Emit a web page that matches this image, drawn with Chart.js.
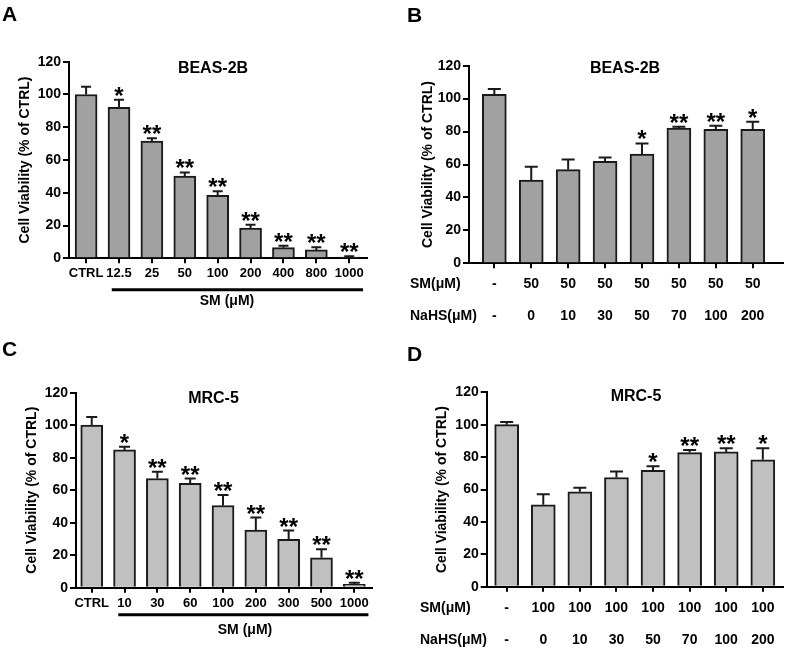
<!DOCTYPE html>
<html>
<head>
<meta charset="utf-8">
<script src="https://cdn.jsdelivr.net/npm/chart.js@4.4.1/dist/chart.umd.min.js"></script>
<style>
  body { margin: 0; background: #fff; }
  #wrap { position: relative; width: 787px; height: 652px; }
  canvas { position: absolute; }
</style>
</head>
<body>
<div id="wrap">
  <canvas id="chartA" width="393" height="326" style="left:0;top:0"></canvas>
  <canvas id="chartB" width="394" height="326" style="left:393px;top:0"></canvas>
  <canvas id="chartC" width="393" height="326" style="left:0;top:326px"></canvas>
  <canvas id="chartD" width="394" height="326" style="left:393px;top:326px"></canvas>
</div>
<script>
// A: BEAS-2B, SM dose response
const catsA = ['CTRL', '12.5', '25', '50', '100', '200', '400', '800', '1000'];
const meanA = [100, 92.1, 71.5, 50.2, 38.5, 18.5, 6.5, 5.1, 0.8];
const semA = [4.7, 4.7, 1.8, 2.2, 2.4, 2.0, 1.1, 1.6, 0.4];
const sigA = ['', '*', '**', '**', '**', '**', '**', '**', '**'];

// B: BEAS-2B, SM 50 + NaHS
const smB = ['-', '50', '50', '50', '50', '50', '50', '50'];
const nahsB = ['-', '0', '10', '30', '50', '70', '100', '200'];
const meanB = [102.6, 50.6, 56.9, 62.0, 66.3, 82.1, 81.3, 81.3];
const semB = [3.2, 8.1, 6.1, 2.2, 6.5, 0.8, 2.2, 4.7];
const sigB = ['', '', '', '', '*', '**', '**', '*'];

// C: MRC-5, SM dose response
const catsC = ['CTRL', '10', '30', '60', '100', '200', '300', '500', '1000'];
const meanC = [100, 84.8, 67.2, 64.3, 50.6, 35.5, 29.7, 18.4, 2.0];
const semC = [5.1, 1.9, 4.1, 2.9, 6.4, 7.7, 5.5, 5.2, 1.0];
const sigC = ['', '*', '**', '**', '**', '**', '**', '**', '**'];

// D: MRC-5, SM 100 + NaHS
const smD = ['-', '100', '100', '100', '100', '100', '100', '100'];
const nahsD = ['-', '0', '10', '30', '50', '70', '100', '200'];
const meanD = [100, 50.6, 58.6, 67.4, 71.9, 82.8, 83.2, 78.3];
const semD = [1.6, 6.4, 2.5, 3.7, 2.5, 1.6, 2.3, 7.2];
const sigD = ['', '', '', '', '*', '**', '**', '*'];

const yTicks = [0, 20, 40, 60, 80, 100, 120];

const FONT = "'Liberation Sans', Arial, sans-serif";
Chart.defaults.font.family = FONT;
Chart.defaults.font.weight = 'bold';
Chart.defaults.color = '#000';
Chart.defaults.animation = false;

function decor(spec) {
    return {
        id: 'decor' + spec.letter,
        afterDatasetsDraw(chart) {
            const ctx = chart.ctx;
            const xs = chart.scales.x, ys = chart.scales.y;
            const area = chart.chartArea;
            ctx.save();
            ctx.strokeStyle = '#1a1a1a';
            ctx.fillStyle = '#000';
            ctx.lineWidth = 2;
            spec.mean.forEach((v, i) => {
                const x = xs.getPixelForValue(i);
                const y0 = ys.getPixelForValue(v);
                const y1 = ys.getPixelForValue(v + spec.sem[i]);
                ctx.beginPath();
                ctx.moveTo(x, y0);
                ctx.lineTo(x, y1);
                ctx.moveTo(x - spec.cap / 2, y1);
                ctx.lineTo(x + spec.cap / 2, y1);
                ctx.stroke();
                if (spec.sig[i]) {
                    ctx.font = 'bold 24px ' + FONT;
                    ctx.textAlign = 'center';
                    ctx.textBaseline = 'alphabetic';
                    ctx.fillText(spec.sig[i], x, y1 + 4);
                }
            });

            // panel title
            ctx.font = 'bold 16px ' + FONT;
            ctx.textAlign = 'center';
            ctx.textBaseline = 'middle';
            ctx.fillText(spec.title, spec.titleX, spec.titleY);

            // panel letter
            ctx.font = 'bold 21px ' + FONT;
            ctx.textAlign = 'left';
            ctx.textBaseline = 'alphabetic';
            ctx.fillText(spec.letter, spec.letterX, spec.letterY);

            if (spec.under) {
                const u = spec.under;
                ctx.lineWidth = 3;
                ctx.strokeStyle = '#000';
                ctx.beginPath();
                ctx.moveTo(xs.getPixelForValue(u.from), area.bottom + u.dy);
                ctx.lineTo(xs.getPixelForValue(u.to), area.bottom + u.dy);
                ctx.stroke();
                ctx.font = 'bold 14px ' + FONT;
                ctx.textAlign = 'center';
                ctx.textBaseline = 'middle';
                ctx.fillText('SM (μM)', u.tx, u.ty);
            }
            if (spec.rows) {
                const lh = 14 * spec.xLine;
                const yFirst = area.bottom + 5 + spec.xPad + lh / 2;
                ctx.font = 'bold 14px ' + FONT;
                ctx.textAlign = 'left';
                ctx.textBaseline = 'middle';
                ctx.fillText('SM(μM)', spec.rows.x, yFirst);
                ctx.fillText('NaHS(μM)', spec.rows.x, yFirst + lh);
            }
            ctx.restore();
        }
    };
}

function buildPanel(spec) {
    const ctx = document.getElementById(spec.id).getContext('2d');
    return new Chart(ctx, {
        type: 'bar',
        data: {
            datasets: [{
                data: spec.mean.map((v, i) => ({ x: i, y: v })),
                backgroundColor: spec.fill,
                borderColor: '#1a1a1a',
                borderWidth: 2,
                barThickness: spec.barW,
                borderSkipped: 'bottom'
            }]
        },
        options: {
            responsive: false,
            layout: { padding: { left: 0, top: spec.top, right: spec.right, bottom: 0 } },
            plugins: { legend: { display: false }, tooltip: { enabled: false } },
            scales: {
                x: {
                    type: 'linear',
                    offset: false,
                    min: spec.xMin,
                    max: spec.xMax,
                    afterBuildTicks: s => { s.ticks = spec.mean.map((_, i) => ({ value: i })); },
                    afterFit: s => { s.height = spec.xH; },
                    ticks: {
                        autoSkip: false,
                        maxRotation: 0,
                        padding: spec.xPad,
                        font: { size: spec.xFont, lineHeight: spec.xLine },
                        callback: v => spec.xLabel(Math.round(v))
                    },
                    grid: { offset: false, drawOnChartArea: false, tickLength: 5, color: '#000', lineWidth: 2 },
                    border: { color: '#000', width: 2 }
                },
                y: {
                    min: 0,
                    max: 120,
                    afterBuildTicks: s => { s.ticks = yTicks.map(v => ({ value: v })); },
                    afterFit: s => { s.width = spec.yW; },
                    ticks: { padding: 2, font: { size: 14 } },
                    grid: { drawOnChartArea: false, tickLength: 6, color: '#000', lineWidth: 2 },
                    border: { color: '#000', width: 2 },
                    title: {
                        display: true,
                        text: 'Cell Viability (% of CTRL)',
                        font: { size: 14 },
                        padding: { top: spec.titlePad, bottom: 0 }
                    }
                }
            }
        },
        plugins: [decor(spec)]
    });
}

document.addEventListener('DOMContentLoaded', () => {
    buildPanel({
        id: 'chartA', letter: 'A', letterX: 2, letterY: 21,
        title: 'BEAS-2B', titleX: 213, titleY: 69,
        mean: meanA, sem: semA, sig: sigA, fill: '#a1a1a1', barW: 22, cap: 10,
        top: 61.7, right: 26, yW: 69, xH: 67.7, xMin: -0.52, xMax: 8.54, titlePad: 16.6,
        xFont: 13, xLine: 1.2, xPad: 2, xLabel: i => catsA[i],
        under: { from: 0.78, to: 8.42, dy: 31.4, tx: 227, ty: 301 }
    });
    buildPanel({
        id: 'chartB', letter: 'B', letterX: 14, letterY: 22,
        title: 'BEAS-2B', titleX: 232, titleY: 68.5,
        mean: meanB, sem: semB, sig: sigB, fill: '#a1a1a1', barW: 24, cap: 13,
        top: 65.7, right: 4, yW: 76, xH: 62.7, xMin: -0.686, xMax: 7.82, titlePad: 27.1,
        xFont: 14, xLine: 2.3, xPad: 0, xLabel: i => [smB[i], nahsB[i]],
        rows: { x: 17 }
    });
    buildPanel({
        id: 'chartC', letter: 'C', letterX: 2, letterY: 30,
        title: 'MRC-5', titleX: 213.5, titleY: 72.3,
        mean: meanC, sem: semC, sig: sigC, fill: '#c0c0c0', barW: 22, cap: 11,
        top: 66.7, right: 21.3, yW: 76, xH: 64.3, xMin: -0.479, xMax: 8.53, titlePad: 23.3,
        xFont: 13, xLine: 1.2, xPad: 2.5, xLabel: i => catsC[i],
        under: { from: 0.81, to: 8.43, dy: 27, tx: 245, ty: 303.7 }
    });
    buildPanel({
        id: 'chartD', letter: 'D', letterX: 14, letterY: 35,
        title: 'MRC-5', titleX: 243, titleY: 70.7,
        mean: meanD, sem: semD, sig: sigD, fill: '#c0c0c0', barW: 24, cap: 13,
        top: 66.3, right: 3.7, yW: 93.7, xH: 65.3, xMin: -0.546, xMax: 7.56, titlePad: 40.3,
        xFont: 14, xLine: 2.3, xPad: 0, xLabel: i => [smD[i], nahsD[i]],
        rows: { x: 27 }
    });
});
</script>
</body>
</html>
